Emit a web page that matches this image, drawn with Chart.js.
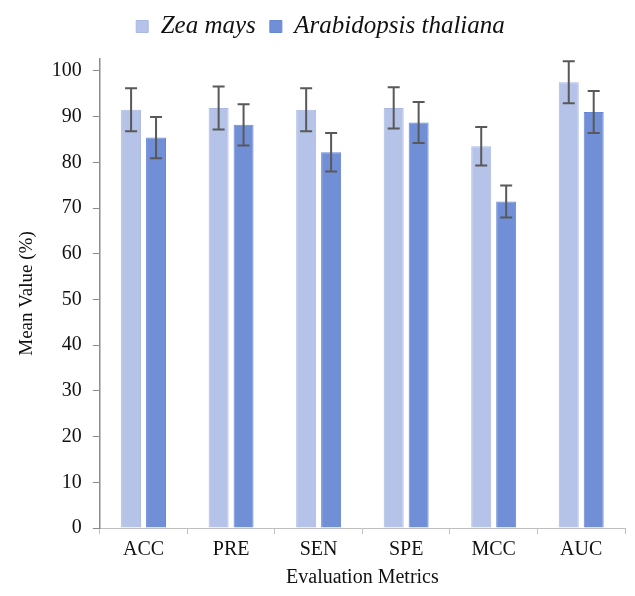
<!DOCTYPE html>
<html>
<head>
<meta charset="utf-8">
<script src="https://cdn.jsdelivr.net/npm/chart.js@4.4.0/dist/chart.umd.min.js"></script>
<style>
  html, body { margin: 0; padding: 0; background: #fff; }
  #wrap { width: 635px; height: 596px; }
</style>
</head>
<body>
<div id="wrap"><canvas id="plots"></canvas></div>
<script>
const metricas = ["ACC", "PRE", "SEN", "SPE", "MCC", "AUC"]
const zeaMays = [91.5, 91.9, 91.5, 91.9, 83.5, 97.5]
const zeaErro = [4.7, 4.7, 4.7, 4.5, 4.2, 4.6]
const arabidopsis = [85.4, 88.2, 82.2, 88.7, 71.4, 91.0]
const arabErro = [4.5, 4.5, 4.2, 4.5, 3.5, 4.6]
const yTicks = [0, 10, 20, 30, 40, 50, 60, 70, 80, 90, 100]

const serif = "'Liberation Serif', 'DejaVu Serif', serif"

// desenha as barras de erro por cima das barras
const barrasErro = {
  id: 'barrasErro',
  afterDatasetsDraw(chart) {
    const ctx = chart.ctx
    const y = chart.scales.y
    const erros = [zeaErro, arabErro]
    ctx.save()
    ctx.strokeStyle = '#595959'
    ctx.lineWidth = 2
    chart.data.datasets.forEach((ds, i) => {
      const meta = chart.getDatasetMeta(i)
      meta.data.forEach((bar, j) => {
        const v = ds.data[j]
        const e = erros[i][j]
        const top = y.getPixelForValue(v + e)
        const bot = y.getPixelForValue(v - e)
        const x = bar.x
        ctx.beginPath()
        ctx.moveTo(x, top); ctx.lineTo(x, bot)
        ctx.moveTo(x - 6, top); ctx.lineTo(x + 6, top)
        ctx.moveTo(x - 6, bot); ctx.lineTo(x + 6, bot)
        ctx.stroke()
      })
    })
    ctx.restore()
  }
}

// mais espaço embaixo da legenda
const espacoLegenda = {
  id: 'espacoLegenda',
  beforeInit(chart) {
    const fitOriginal = chart.legend.fit
    chart.legend.fit = function () {
      fitOriginal.bind(chart.legend)()
      this.height += 10
    }
  }
}

const chart1 = new Chart(document.getElementById("plots"), {
  type: 'bar',
  data: {
    labels: metricas,
    datasets: [{
      label: 'Zea mays',
      data: zeaMays,
      backgroundColor: '#b4c3e7',
      borderColor: '#a9b9e2',
      borderWidth: 1
    }, {
      label: 'Arabidopsis thaliana',
      data: arabidopsis,
      backgroundColor: '#718fd6',
      borderColor: '#6887d2',
      borderWidth: 1
    }]
  },
  options: {
    responsive: true,
    maintainAspectRatio: false,
    animation: false,
    layout: { padding: { left: 16, right: 10, top: 0, bottom: 6 } },
    datasets: { bar: { categoryPercentage: 0.57, barPercentage: 0.8 } },
    plugins: {
      tooltip: { enabled: false },
      legend: {
        position: 'top',
        labels: {
          boxWidth: 12, boxHeight: 12, padding: 14,
          color: '#111',
          font: { family: serif, size: 25, style: 'italic' }
        }
      }
    },
    scales: {
      x: {
        grid: { display: true, drawOnChartArea: false, offset: true, tickLength: 6, color: '#bfbfbf' },
        border: { color: '#bfbfbf', width: 1 },
        ticks: { color: '#111', padding: 4, font: { family: serif, size: 20 } },
        title: { display: true, text: 'Evaluation Metrics', color: '#111', padding: { top: 0, bottom: 0 }, font: { family: serif, size: 20 } }
      },
      y: {
        min: 0,
        max: 102.6,
        afterBuildTicks: (s) => { s.ticks = yTicks.map(v => ({ value: v })) },
        grid: { display: true, drawOnChartArea: false, tickLength: 7, color: '#8c8c8c' },
        border: { color: '#8c8c8c', width: 1.5 },
        ticks: { color: '#111', padding: 11, font: { family: serif, size: 20 } },
        title: { display: true, text: 'Mean Value (%)', color: '#111', padding: { top: 0, bottom: 2 }, font: { family: serif, size: 19 } }
      }
    }
  },
  plugins: [barrasErro, espacoLegenda]
})
</script>
</body>
</html>
